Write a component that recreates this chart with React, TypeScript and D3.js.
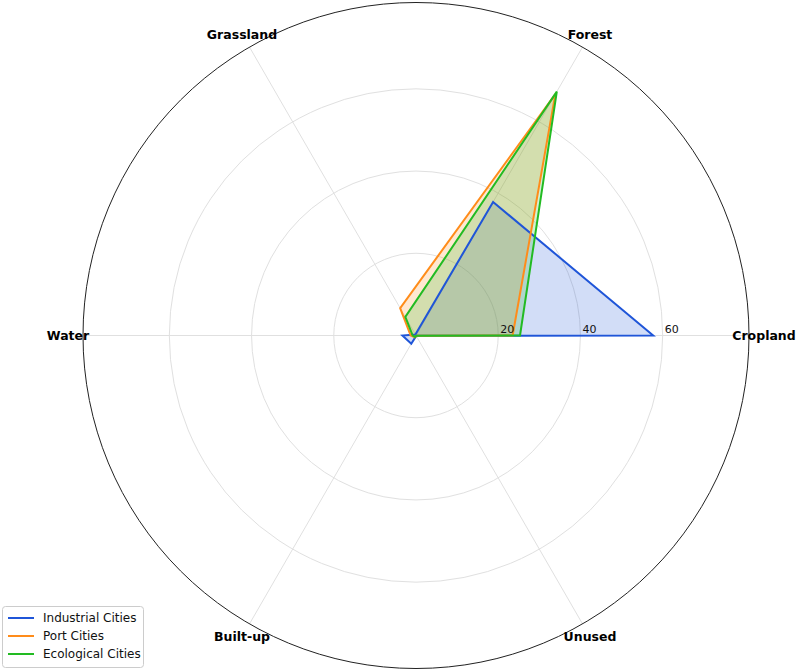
import React, { useEffect, useRef } from 'react';
import * as d3 from 'd3';

const categories = ['Cropland', 'Forest', 'Grassland', 'Water', 'Built-up', 'Unused'];
const seriesNames = ['Industrial Cities', 'Port Cities', 'Ecological Cities'];
const industrial = [57.7, 37.5, 0.3, 3.3, 2.3, 0.1];
const port = [23.5, 67.8, 7.7, 1.3, 0.5, 0.1];
const ecological = [25.3, 68.5, 5.2, 0.8, 0.4, 0.1];
const seriesColors = ['#1f55d8', '#ff8c1a', '#22bb22'];
const radialTicks = [20, 40, 60];

export default function App() {
  const ref = useRef<SVGSVGElement | null>(null);

  useEffect(() => {
    const svg = d3.select(ref.current);
    svg.selectAll('*').remove();

    const cx = 416;
    const cy = 335.5;
    const R = 333;
    const r = d3.scaleLinear().domain([0, 81]).range([0, R]);
    const angle = d3.scaleLinear().domain([0, categories.length]).range([0, 2 * Math.PI]);
    const pt = (i: number, v: number): [number, number] => {
      const a = angle(i);
      return [cx + r(v) * Math.cos(a), cy - r(v) * Math.sin(a)];
    };

    const g = svg.append('g');

    // grid circles
    radialTicks.forEach(t => {
      g.append('circle')
        .attr('cx', cx).attr('cy', cy).attr('r', r(t))
        .attr('fill', 'none').attr('stroke', '#e0e0e0').attr('stroke-width', 1);
    });
    // spokes
    categories.forEach((c, i) => {
      const [x, y] = pt(i, 81);
      g.append('line')
        .attr('x1', cx).attr('y1', cy).attr('x2', x).attr('y2', y)
        .attr('stroke', '#e0e0e0').attr('stroke-width', 1);
    });

    const allSeries = [industrial, port, ecological];
    const line = d3.line<[number, number]>().curve(d3.curveLinearClosed);
    allSeries.forEach((s, k) => {
      const pts = s.map((v, i) => pt(i, v));
      g.append('path')
        .attr('d', line(pts))
        .attr('fill', seriesColors[k]).attr('fill-opacity', 0.2)
        .attr('stroke', 'none');
    });
    allSeries.forEach((s, k) => {
      const pts = s.map((v, i) => pt(i, v));
      g.append('path')
        .attr('d', line(pts))
        .attr('fill', 'none')
        .attr('stroke', seriesColors[k]).attr('stroke-width', 2)
        .attr('stroke-linejoin', 'miter');
    });

    // outer spine
    g.append('circle')
      .attr('cx', cx).attr('cy', cy).attr('r', R)
      .attr('fill', 'none').attr('stroke', '#222').attr('stroke-width', 1);

    // tick labels
    radialTicks.forEach(t => {
      g.append('text')
        .attr('x', cx + r(t) + 2).attr('y', cy - 3)
        .attr('font-family', 'DejaVu Sans').attr('font-size', 11)
        .attr('fill', '#111')
        .text(String(t));
    });

    // category labels
    categories.forEach((c, i) => {
      const a = angle(i);
      const x = cx + 348 * Math.cos(a);
      const y = cy - 348 * Math.sin(a);
      g.append('text')
        .attr('x', x).attr('y', y)
        .attr('text-anchor', 'middle').attr('dominant-baseline', 'central')
        .attr('font-family', 'DejaVu Sans').attr('font-weight', 'bold').attr('font-size', 12.5)
        .attr('fill', '#000')
        .text(c);
    });

    // legend
    const lg = svg.append('g').attr('transform', 'translate(2,606)');
    lg.append('rect')
      .attr('x', 0.5).attr('y', 0.5).attr('width', 141).attr('height', 61).attr('rx', 3)
      .attr('fill', 'white').attr('fill-opacity', 0.8)
      .attr('stroke', '#cccccc');
    seriesNames.forEach((n, k) => {
      const y = 12 + k * 18;
      lg.append('line')
        .attr('x1', 6).attr('x2', 32).attr('y1', y).attr('y2', y)
        .attr('stroke', seriesColors[k]).attr('stroke-width', 2);
      lg.append('text')
        .attr('x', 41).attr('y', y)
        .attr('dominant-baseline', 'central')
        .attr('font-family', 'DejaVu Sans').attr('font-size', 12)
        .attr('fill', '#111')
        .text(n);
    });
  }, []);

  return (
    <svg ref={ref} width={796} height={671}
      style={{ position: 'absolute', left: 0, top: 0, background: 'white' }} />
  );
}
